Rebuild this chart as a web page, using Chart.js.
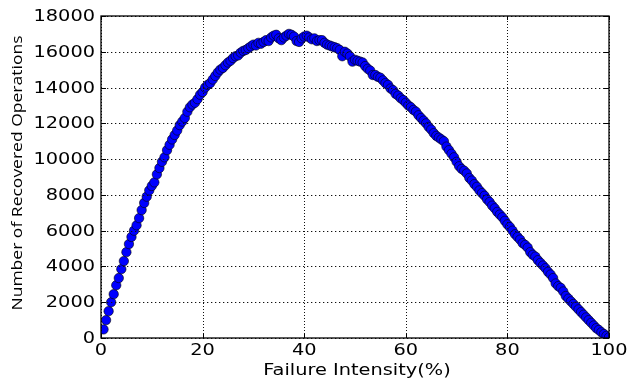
<!DOCTYPE html>
<html>
<head>
<meta charset="utf-8">
<script src="https://cdn.jsdelivr.net/npm/chart.js@4"></script>
<style>
  html, body { margin: 0; padding: 0; background: #fff; overflow: hidden; }
  #wrap { width: 631px; height: 380px; }
</style>
</head>
<body>
<div id="wrap"><canvas id="chart"></canvas></div>
<script>
const intensity = [
  0.5, 1, 1.5, 2, 2.5, 3, 3.5, 4, 4.5, 5,
  5.5, 6, 6.5, 7, 7.5, 8, 8.5, 9, 9.5, 10,
  10.5, 11, 11.5, 12, 12.5, 13, 13.5, 14, 14.5, 15,
  15.5, 16, 16.5, 17, 17.5, 18, 18.5, 19, 19.5, 20,
  20.5, 21, 21.5, 22, 22.5, 23, 23.5, 24, 24.5, 25,
  25.5, 26, 26.5, 27, 27.5, 28, 28.5, 29, 29.5, 30,
  30.5, 31, 31.5, 32, 32.5, 33, 33.5, 34, 34.5, 35,
  35.5, 36, 36.5, 37, 37.5, 38, 38.5, 39, 39.5, 40,
  40.5, 41, 41.5, 42, 42.5, 43, 43.5, 44, 44.5, 45,
  45.5, 46, 46.5, 47, 47.5, 48, 48.5, 49, 49.5, 50,
  50.5, 51, 51.5, 52, 52.5, 53, 53.5, 54, 54.5, 55,
  55.5, 56, 56.5, 57, 57.5, 58, 58.5, 59, 59.5, 60,
  60.5, 61, 61.5, 62, 62.5, 63, 63.5, 64, 64.5, 65,
  65.5, 66, 66.5, 67, 67.5, 68, 68.5, 69, 69.5, 70,
  70.5, 71, 71.5, 72, 72.5, 73, 73.5, 74, 74.5, 75,
  75.5, 76, 76.5, 77, 77.5, 78, 78.5, 79, 79.5, 80,
  80.5, 81, 81.5, 82, 82.5, 83, 83.5, 84, 84.5, 85,
  85.5, 86, 86.5, 87, 87.5, 88, 88.5, 89, 89.5, 90,
  90.5, 91, 91.5, 92, 92.5, 93, 93.5, 94, 94.5, 95,
  95.5, 96, 96.5, 97, 97.5, 98, 98.5, 99, 99.5, 100
];
const recovered = [
  480, 1000, 1500, 2000, 2450, 2950, 3350, 3850, 4300, 4800,
  5250, 5650, 6000, 6300, 6700, 7150, 7550, 7900, 8250, 8500,
  8700, 9150, 9500, 9850, 10100, 10500, 10800, 11100, 11350, 11600,
  11900, 12100, 12300, 12650, 12900, 13050, 13150, 13350, 13600, 13750,
  14000, 14150, 14250, 14450, 14650, 14850, 15000, 15100, 15250, 15400,
  15500, 15650, 15750, 15800, 15950, 16050, 16100, 16200, 16300, 16400,
  16350, 16500, 16450, 16550, 16650, 16600, 16800, 16900, 16950, 16750,
  16650, 16800, 16900, 17000, 16950, 16850, 16600, 16550, 16750, 16850,
  16900, 16800, 16700, 16750, 16600, 16650, 16650, 16500, 16400, 16350,
  16300, 16250, 16200, 16100, 15750, 16000, 15900, 15750, 15450, 15550,
  15500, 15450, 15400, 15200, 15050, 14950, 14700, 14700, 14600, 14550,
  14400, 14250, 14150, 13950, 13850, 13650, 13550, 13400, 13300, 13150,
  13000, 12900, 12750, 12650, 12450, 12300, 12150, 12000, 11800, 11650,
  11450, 11300, 11200, 11100, 11000, 10700, 10500, 10300, 10100, 9850,
  9600, 9450, 9350, 9200, 8950, 8800, 8600, 8450, 8250, 8100,
  7950, 7750, 7600, 7400, 7250, 7050, 6900, 6750, 6550, 6350,
  6200, 6000, 5800, 5650, 5500, 5300, 5200, 5050, 4800, 4650,
  4550, 4350, 4200, 4050, 3900, 3700, 3550, 3350, 3050, 2900,
  2800, 2600, 2350, 2200, 2050, 1900, 1750, 1600, 1450, 1300,
  1150, 1000, 850, 700, 550, 450, 320, 220, 120, 40
];
const xTicks = [0, 20, 40, 60, 80, 100];
const yTicks = [0, 2000, 4000, 6000, 8000, 10000, 12000, 14000, 16000, 18000];
const xTitle = 'Failure Intensity(%)';
const yTitle = 'Number of Recovered Operations';

// the source text is widened sideways, so labels are drawn by hand with a stretch
const STRETCH = 1.29;
const labelFont = '15px "DejaVu Sans"';

function stretchedText(ctx, text, x, y, align) {
  ctx.save();
  ctx.translate(x, y);
  ctx.scale(STRETCH, 1);
  ctx.textAlign = align;
  ctx.textBaseline = 'alphabetic';
  ctx.fillText(text, 0, 0);
  ctx.restore();
}

// dotted grid over the markers, box, inward ticks and all the labels
const framePlugin = {
  id: 'frame',
  afterDraw(chart) {
    const ctx = chart.ctx;
    const a = chart.chartArea;
    const sx = chart.scales.x, sy = chart.scales.y;
    ctx.save();

    ctx.fillStyle = '#111';
    xTicks.forEach(v => {
      const px = Math.round(sx.getPixelForValue(v));
      for (let y = Math.round(a.top) + 2; y < a.bottom - 1; y += 3) ctx.fillRect(px, y, 1, 1);
    });
    yTicks.forEach(v => {
      const py = Math.round(sy.getPixelForValue(v));
      for (let x = Math.round(a.left) + 2; x < a.right - 1; x += 4) ctx.fillRect(x, py, 1.3, 1);
    });

    ctx.strokeStyle = '#000';
    ctx.lineWidth = 1;
    ctx.beginPath();
    xTicks.forEach(v => {
      const px = Math.round(sx.getPixelForValue(v)) + 0.5;
      ctx.moveTo(px, a.bottom); ctx.lineTo(px, a.bottom - 4);
      ctx.moveTo(px, a.top); ctx.lineTo(px, a.top + 4);
    });
    yTicks.forEach(v => {
      const py = Math.round(sy.getPixelForValue(v)) + 0.5;
      ctx.moveTo(a.left, py); ctx.lineTo(a.left + 5, py);
      ctx.moveTo(a.right, py); ctx.lineTo(a.right - 5, py);
    });
    ctx.stroke();
    ctx.lineWidth = 1.3;
    ctx.strokeRect(a.left, a.top, a.right - a.left, a.bottom - a.top);

    ctx.fillStyle = '#000';
    ctx.font = labelFont;
    xTicks.forEach(v => stretchedText(ctx, String(v), sx.getPixelForValue(v), a.bottom + 16.5, 'center'));
    yTicks.forEach(v => stretchedText(ctx, String(v), a.left - 6, sy.getPixelForValue(v) + 5, 'right'));
    stretchedText(ctx, xTitle, (a.left + a.right) / 2 + 2, 375, 'center');

    ctx.translate(17.5, (a.top + a.bottom) / 2 - 4);
    ctx.rotate(-Math.PI / 2);
    ctx.font = '18px "Open Sans"';
    const w = ctx.measureText(yTitle).width;
    ctx.scale(275 / w, 0.85);
    ctx.textAlign = 'center';
    ctx.textBaseline = 'middle';
    ctx.fillText(yTitle, 0, 0);
    ctx.restore();
  }
};

new Chart(document.getElementById('chart'), {
  type: 'scatter',
  data: {
    datasets: [{
      data: intensity.map((x, i) => ({ x: x, y: recovered[i] })),
      pointStyle: 'circle',
      pointRadius: 4.7,
      backgroundColor: '#0000ff',
      borderColor: 'rgba(0,0,0,0.85)',
      borderWidth: 0.7
    }]
  },
  options: {
    responsive: true,
    maintainAspectRatio: false,
    animation: false,
    events: [],
    layout: { padding: { top: 16, right: 22, left: 0, bottom: 0 } },
    plugins: { legend: { display: false }, tooltip: { enabled: false } },
    scales: {
      x: {
        type: 'linear',
        min: 0,
        max: 100,
        afterBuildTicks: s => { s.ticks = xTicks.map(v => ({ value: v })); },
        afterFit: s => { s.height = 42; },
        ticks: { display: false },
        grid: { display: false, drawTicks: false },
        border: { display: false }
      },
      y: {
        min: 0,
        max: 18000,
        afterBuildTicks: s => { s.ticks = yTicks.map(v => ({ value: v })); },
        afterFit: s => { s.width = 101; },
        ticks: { display: false },
        grid: { display: false, drawTicks: false },
        border: { display: false }
      }
    }
  },
  plugins: [framePlugin]
});
</script>
</body>
</html>
